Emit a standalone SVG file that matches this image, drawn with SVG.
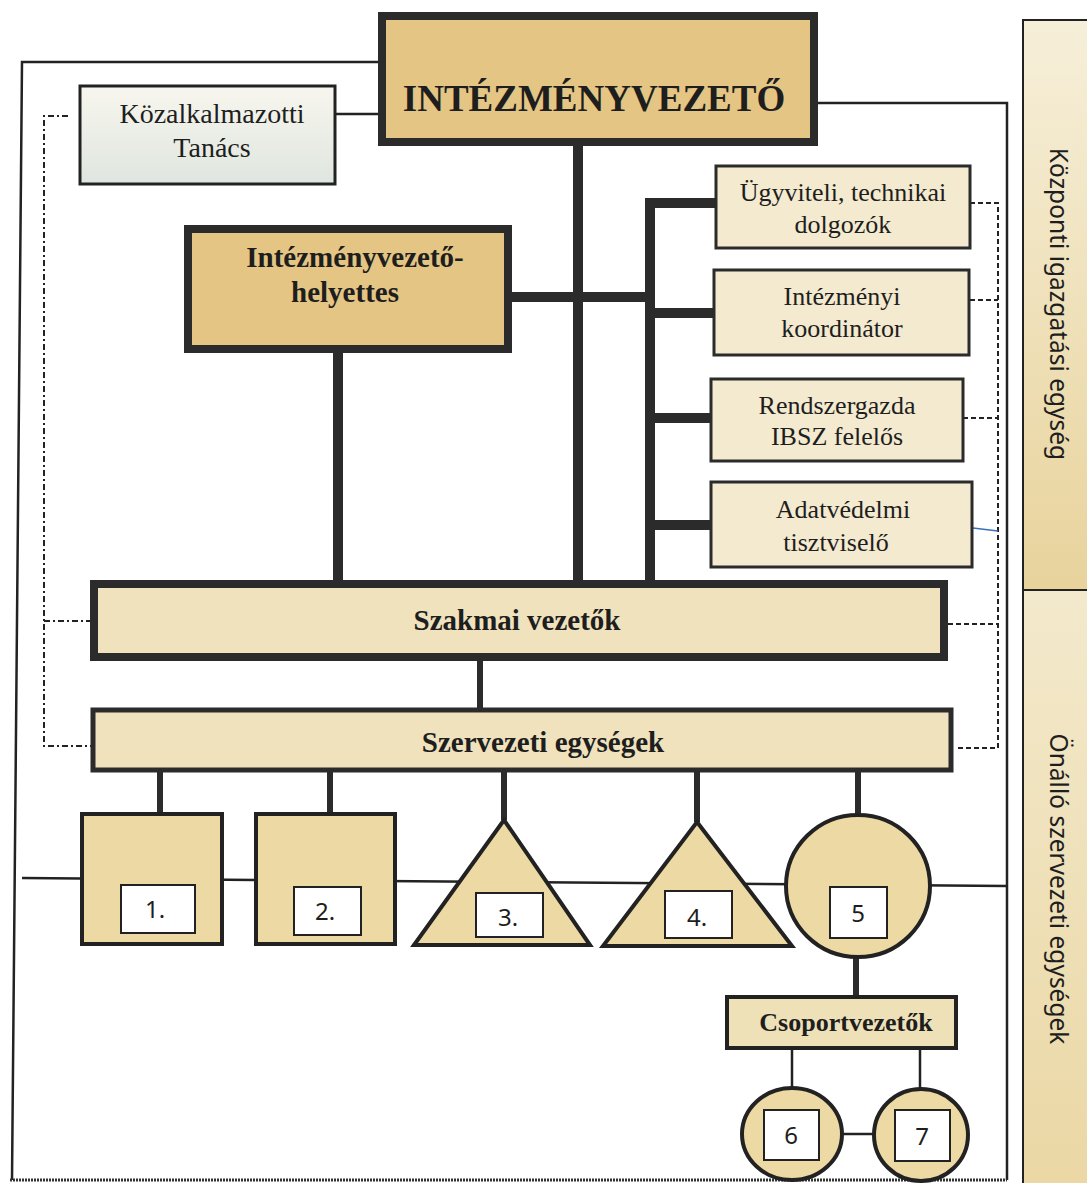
<svg xmlns="http://www.w3.org/2000/svg" width="1087" height="1183" viewBox="0 0 1087 1183">
<defs>
<linearGradient id="panelTop" x1="0" y1="0" x2="0" y2="1">
<stop offset="0" stop-color="#f6efd9"/><stop offset="1" stop-color="#e8d39c"/>
</linearGradient>
<linearGradient id="panelBot" x1="0" y1="0" x2="0" y2="1">
<stop offset="0" stop-color="#f3e9cc"/><stop offset="1" stop-color="#ead7a4"/>
</linearGradient>
<linearGradient id="kozGrad" x1="0" y1="0" x2="0" y2="1">
<stop offset="0" stop-color="#f7f6ee"/><stop offset="1" stop-color="#dfe6df"/>
</linearGradient>
</defs>
<style>
.serif{font-family:"Liberation Serif","Times New Roman",serif;fill:#1e1e1e;text-anchor:middle}
.b{font-weight:bold}
.sans{font-family:"Noto Sans","Open Sans",sans-serif;fill:#1e1e1e;text-anchor:middle}
.thick{fill:none;stroke:#2b2b2b;stroke-width:10}
.mid{fill:none;stroke:#2b2b2b;stroke-width:6}
.thin{fill:none;stroke:#222;stroke-width:2.5}
.dashR{fill:none;stroke:#222;stroke-width:2;stroke-dasharray:5,3}
.dashL{fill:none;stroke:#222;stroke-width:2;stroke-dasharray:6,3,2,3}
.tan{fill:#e4c583;stroke:#2b2b2b;stroke-width:8}
.cream{fill:#f3eacf;stroke:#2b2b2b;stroke-width:3}
.bar{fill:#efe2bd;stroke:#2b2b2b}
.shape{fill:#ecd9a3;stroke:#222;stroke-width:4}
.inner{fill:#fff;stroke:#222;stroke-width:2}
</style>

<g id="panel">
<rect x="1023" y="20" width="70" height="570" fill="url(#panelTop)" stroke="#222" stroke-width="2"/>
<rect x="1023" y="590" width="70" height="600" fill="url(#panelBot)" stroke="#222" stroke-width="2"/>
<text class="sans" font-size="24.5" transform="translate(1050,304) rotate(90)">Központi igazgatási egység</text>
<text class="sans" font-size="24.5" transform="translate(1050,889) rotate(90)">Önálló szervezeti egységek</text>
</g>

<g id="connectors">
<polyline class="thin" points="378,62 22,62 12,1180"/>
<polyline class="thin" points="818,103 1007,103 1007,1180"/>
<line x1="10" y1="1180" x2="1007" y2="1180" stroke="#333" stroke-width="3" stroke-dasharray="2,1"/>
<line class="thin" x1="22" y1="878" x2="1007" y2="886"/>
<line class="thin" x1="335" y1="114" x2="378" y2="114"/>
<polyline class="dashL" points="68,116 44,116 44,746 91,746"/>
<line class="dashL" x1="44" y1="621" x2="90" y2="621"/>
<polyline class="dashR" points="970,203 998,203 998,748 955,748"/>
<line class="dashR" x1="970" y1="300" x2="998" y2="300"/>
<line class="dashR" x1="963" y1="418" x2="998" y2="418"/>
<line class="dashR" x1="948" y1="624" x2="998" y2="624"/>
<line x1="973" y1="528" x2="998" y2="531" stroke="#3a6fc0" stroke-width="1.5"/>
<line class="thick" x1="578" y1="146" x2="578" y2="582"/>
<line class="thick" x1="338" y1="353" x2="338" y2="582"/>
<line class="thick" x1="512" y1="297" x2="650" y2="297"/>
<polyline class="thick" points="716,203 650,203 650,582"/>
<line class="thick" x1="650" y1="313" x2="714" y2="313"/>
<line class="thick" x1="650" y1="418" x2="711" y2="418"/>
<line class="thick" x1="650" y1="525" x2="711" y2="525"/>
<line class="mid" x1="480" y1="660" x2="480" y2="708"/>
<line class="mid" x1="160" y1="772" x2="160" y2="812"/>
<line class="mid" x1="330" y1="772" x2="330" y2="812"/>
<line class="mid" x1="504" y1="772" x2="504" y2="820"/>
<line class="mid" x1="697" y1="772" x2="697" y2="822"/>
<line class="mid" x1="858" y1="772" x2="858" y2="815"/>
<line class="mid" x1="856" y1="957" x2="856" y2="997"/>
<line class="thin" x1="792" y1="1048" x2="792" y2="1088"/>
<line class="thin" x1="920" y1="1048" x2="920" y2="1088"/>
<line class="thin" x1="842" y1="1134" x2="874" y2="1134"/>
</g>

<g id="intezmenyvezeto">
<rect class="tan" x="382" y="16" width="432" height="126"/>
<text class="serif b" x="594" y="111" font-size="37">INTÉZMÉNYVEZETŐ</text>
</g>

<g id="kozalkalmazotti">
<rect x="80" y="86" width="255" height="98" fill="url(#kozGrad)" stroke="#222" stroke-width="3"/>
<text class="serif" x="212" y="123" font-size="28">Közalkalmazotti</text>
<text class="serif" x="212" y="157" font-size="28">Tanács</text>
</g>

<g id="helyettes">
<rect class="tan" x="188" y="229" width="320" height="120"/>
<text class="serif b" x="355" y="267" font-size="29">Intézményvezető-</text>
<text class="serif b" x="345" y="302" font-size="29">helyettes</text>
</g>

<g id="ugyviteli">
<rect class="cream" x="716" y="166" width="254" height="82"/>
<text class="serif" x="843" y="201" font-size="26">Ügyviteli, technikai</text>
<text class="serif" x="843" y="233" font-size="26">dolgozók</text>
</g>

<g id="koordinator">
<rect class="cream" x="714" y="270" width="255" height="85"/>
<text class="serif" x="842" y="305" font-size="26">Intézményi</text>
<text class="serif" x="842" y="337" font-size="26">koordinátor</text>
</g>

<g id="rendszergazda">
<rect class="cream" x="711" y="379" width="252" height="82"/>
<text class="serif" x="837" y="414" font-size="26">Rendszergazda</text>
<text class="serif" x="837" y="445" font-size="26">IBSZ felelős</text>
</g>

<g id="adatvedelmi">
<rect class="cream" x="711" y="482" width="261" height="85"/>
<text class="serif" x="843" y="518" font-size="26">Adatvédelmi</text>
<text class="serif" x="836" y="551" font-size="26">tisztviselő</text>
</g>

<g id="szakmai">
<rect class="bar" x="94" y="584" width="850" height="73" stroke-width="8"/>
<text class="serif b" x="517" y="630" font-size="29">Szakmai vezetők</text>
</g>

<g id="szervezeti">
<rect class="bar" x="93" y="710" width="858" height="60" stroke-width="5"/>
<text class="serif b" x="543" y="752" font-size="29">Szervezeti egységek</text>
</g>

<g id="unit1">
<rect class="shape" x="82" y="814" width="140" height="130"/>
<rect class="inner" x="121" y="885" width="74" height="48"/>
<text class="sans" x="155" y="918" font-size="24">1.</text>
</g>

<g id="unit2">
<rect class="shape" x="256" y="814" width="139" height="130"/>
<rect class="inner" x="294" y="887" width="67" height="48"/>
<text class="sans" x="325" y="920" font-size="24">2.</text>
</g>

<g id="unit3">
<polygon class="shape" points="504,820 590,945 414,945"/>
<rect class="inner" x="476" y="893" width="67" height="44"/>
<text class="sans" x="508" y="926" font-size="24">3.</text>
</g>

<g id="unit4">
<polygon class="shape" points="697,822 792,946 603,946"/>
<rect class="inner" x="665" y="891" width="67" height="47"/>
<text class="sans" x="697" y="926" font-size="24">4.</text>
</g>

<g id="unit5">
<ellipse class="shape" cx="858" cy="886" rx="72" ry="71"/>
<rect class="inner" x="830" y="887" width="57" height="51"/>
<text class="sans" x="858" y="922" font-size="24">5</text>
</g>

<g id="csoportvezetok">
<rect x="727" y="997" width="229" height="51" fill="#efe1b7" stroke="#222" stroke-width="4"/>
<text class="serif b" x="846" y="1031" font-size="26">Csoportvezetők</text>
</g>

<g id="unit6">
<ellipse class="shape" cx="792" cy="1134" rx="50" ry="46" stroke-width="3"/>
<rect class="inner" x="764" y="1110" width="55" height="50"/>
<text class="sans" x="791" y="1144" font-size="24">6</text>
</g>

<g id="unit7">
<ellipse class="shape" cx="921" cy="1135" rx="47" ry="46" stroke-width="3"/>
<rect class="inner" x="895" y="1110" width="55" height="51"/>
<text class="sans" x="922" y="1145" font-size="24">7</text>
</g>
</svg>
